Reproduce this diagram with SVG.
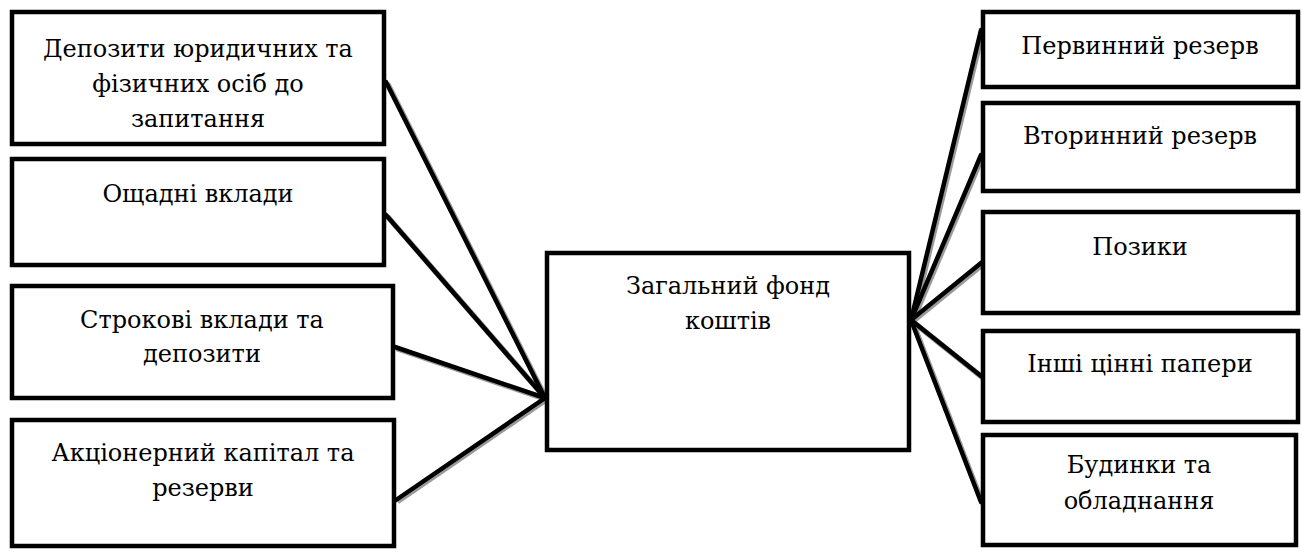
<svg xmlns="http://www.w3.org/2000/svg" width="1302" height="556" viewBox="0 0 1302 556">
<style>
.box{fill:#fff;stroke:#000;stroke-width:4.5}
.sh{stroke:#9a9a9a;stroke-width:5.5;fill:none}
.ln{stroke:#000;stroke-width:4.5;fill:none;stroke-linecap:round}
.t{font-family:'DejaVu Serif','Liberation Serif',serif;font-size:24px;fill:#000;text-anchor:middle}
</style>
<rect width="1302" height="556" fill="#fff"/>
<g id="connectors">
<g transform="translate(1.5,1.5)">
<line class="sh" x1="386" y1="82" x2="545" y2="398"/>
<line class="sh" x1="386" y1="215" x2="545" y2="398"/>
<line class="sh" x1="395" y1="347" x2="545" y2="398"/>
<line class="sh" x1="396" y1="500" x2="545" y2="398"/>
<line class="sh" x1="911" y1="320" x2="981" y2="30"/>
<line class="sh" x1="911" y1="320" x2="981" y2="155"/>
<line class="sh" x1="911" y1="320" x2="981" y2="263"/>
<line class="sh" x1="911" y1="320" x2="981" y2="376"/>
<line class="sh" x1="911" y1="320" x2="981" y2="502"/>
</g>
<line class="ln" x1="386" y1="82" x2="545" y2="398"/>
<line class="ln" x1="386" y1="215" x2="545" y2="398"/>
<line class="ln" x1="395" y1="347" x2="545" y2="398"/>
<line class="ln" x1="396" y1="500" x2="545" y2="398"/>
<line class="ln" x1="911" y1="320" x2="981" y2="30"/>
<line class="ln" x1="911" y1="320" x2="981" y2="155"/>
<line class="ln" x1="911" y1="320" x2="981" y2="263"/>
<line class="ln" x1="911" y1="320" x2="981" y2="376"/>
<line class="ln" x1="911" y1="320" x2="981" y2="502"/>
</g>
<g id="l1"><rect class="box" x="12" y="12" width="372" height="132"/>
<text class="t" x="198" y="57">Депозити юридичних та</text>
<text class="t" x="198" y="92">фізичних осіб до</text>
<text class="t" x="198" y="127">запитання</text></g>
<g id="l2"><rect class="box" x="12" y="159" width="372" height="106"/>
<text class="t" x="198" y="202">Ощадні вклади</text></g>
<g id="l3"><rect class="box" x="12" y="286" width="381" height="112"/>
<text class="t" x="202" y="328">Строкові вклади та</text>
<text class="t" x="202" y="362">депозити</text></g>
<g id="l4"><rect class="box" x="12" y="420" width="382" height="126"/>
<text class="t" x="203" y="461">Акціонерний капітал та</text>
<text class="t" x="203" y="496">резерви</text></g>
<g id="center"><rect class="box" x="547" y="253" width="362" height="197"/>
<text class="t" x="728" y="294">Загальний фонд</text>
<text class="t" x="728" y="329">коштів</text></g>
<g id="r1"><rect class="box" x="983" y="12" width="315" height="75"/>
<text class="t" x="1140" y="54">Первинний резерв</text></g>
<g id="r2"><rect class="box" x="983" y="103" width="315" height="88"/>
<text class="t" x="1140" y="144">Вторинний резерв</text></g>
<g id="r3"><rect class="box" x="983" y="212" width="315" height="101"/>
<text class="t" x="1140" y="255">Позики</text></g>
<g id="r4"><rect class="box" x="983" y="331" width="315" height="91"/>
<text class="t" x="1140" y="372">Інші цінні папери</text></g>
<g id="r5"><rect class="box" x="983" y="435" width="313" height="110"/>
<text class="t" x="1139" y="473">Будинки та</text>
<text class="t" x="1139" y="509">обладнання</text></g>
</svg>
